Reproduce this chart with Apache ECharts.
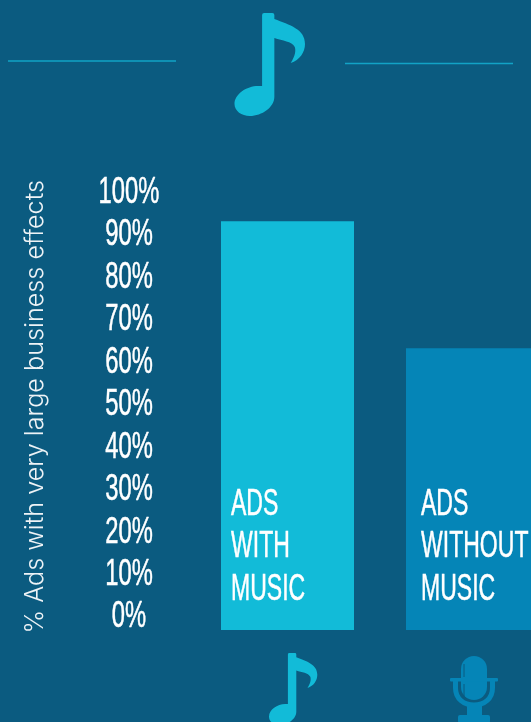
<!DOCTYPE html>
<html>
<head>
<meta charset="utf-8">
<style>html,body{margin:0;padding:0;background:#0B5B80;overflow:hidden}#chart{width:531px;height:722px}</style>
<script src="https://cdn.jsdelivr.net/npm/echarts@6/dist/echarts.min.js"></script>
</head>
<body>
<div id="chart"></div>
<script>
// Chart content
const categories = ['ADS\nWITH\nMUSIC', 'ADS\nWITHOUT\nMUSIC'];
const shareOfAds = [96.3, 66.4];
const tickValues = [0, 10, 20, 30, 40, 50, 60, 70, 80, 90, 100];
const axisTitle = '% Ads with very large business effects';

// Palette and type
const BG = '#0B5B80', TEAL = '#12BBD8', BLUE = '#0585B7', RULE = '#12A3C6';
const NARROW = '"Liberation Sans", sans-serif';
const TICK_SQUEEZE = 0.66, CAPTION_SQUEEZE = 0.64;
const CAPTION_INSET = [10, 15];

// Eighth note outline, reused at a smaller scale under the first bar
const NOTE = 'M258 15Q258 13 260 13L268 13Q270 13 270 15L270 19C285 25 300 29 300 44C300 52 295 60 286 63C291 55 291 50 290 47C287 41 278 41 270 38L270 97C270 107 258 116 246 116C238 116 231 111 231 104C231 94 243 86 254 86L258 86Z';

const chart = echarts.init(document.getElementById('chart'), null, {renderer: 'canvas'});

const barColor = (i) => (i === 0 ? TEAL : BLUE);

const pathEl = (d, x, y, width, height, style) => ({
  type: 'path',
  shape: {pathData: d, layout: 'cover', x, y, width, height},
  style
});

const condensedText = {
  fontFamily: NARROW, fontSize: 36, fill: '#fff', stroke: '#fff', lineWidth: 0.5
};

chart.setOption({
  backgroundColor: BG,
  animation: false,
  grid: {left: 195, width: 370, top: 205.5, height: 424.5, outerBoundsMode: 'none'},
  xAxis: {
    type: 'category',
    data: categories,
    axisLine: {show: false}, axisTick: {show: false}, axisLabel: {show: false}
  },
  yAxis: {
    type: 'value', min: 0, max: 100, interval: 10,
    name: axisTitle,
    nameLocation: 'middle',
    nameRotate: 90,
    nameGap: 147,
    nameTextStyle: {
      color: '#EEF3F6', fontFamily: 'Inter, sans-serif', fontWeight: 300, fontSize: 25.2,
      padding: [0, 0, 0, 22]
    },
    axisLine: {show: false}, axisTick: {show: false}, axisLabel: {show: false},
    splitLine: {show: false}
  },
  series: [
    {
      type: 'bar',
      barWidth: 133,
      data: shareOfAds.map((v, i) => ({value: v, itemStyle: {color: barColor(i)}}))
    },
    {
      // Percentage column, set in a squeezed face
      type: 'custom',
      data: tickValues.map((v) => [0, v]),
      encode: {x: 0, y: 1},
      silent: true,
      renderItem: (params, api) => ({
        type: 'text',
        x: 129,
        y: api.coord([0, api.value(1)])[1] - 12.5,
        scaleX: TICK_SQUEEZE,
        style: Object.assign({
          text: api.value(1) + '%',
          align: 'center', verticalAlign: 'middle'
        }, condensedText)
      })
    },
    {
      // Bar captions, stacked from the foot of each bar
      type: 'custom',
      data: categories.map((c, i) => [i, 0]),
      encode: {x: 0, y: 1},
      silent: true,
      z: 3,
      renderItem: (params, api) => {
        const i = api.value(0);
        const p = api.coord([i, 0]);
        return {
          type: 'text',
          x: p[0] - 66.5 + CAPTION_INSET[i],
          y: p[1] - 19,
          scaleX: CAPTION_SQUEEZE,
          style: Object.assign({
            text: categories[i],
            lineHeight: 42.5,
            align: 'left', verticalAlign: 'bottom'
          }, condensedText)
        };
      }
    },
    {
      // Header note and the two bar icons
      type: 'custom',
      data: [[0, 0]],
      encode: {x: 0, y: 1},
      silent: true,
      renderItem: () => ({
        type: 'group',
        children: [
          pathEl(NOTE, 234.5, 13, 70.5, 103, {fill: TEAL}),
          pathEl(NOTE, 269, 653, 48.3, 72.1, {fill: TEAL}),
          {type: 'rect', shape: {x: 461, y: 656, width: 26, height: 44, r: 13}, style: {fill: BLUE}},
          pathEl('M455.5 680L455.5 688C455.5 699 464 705 474 705C484 705 492.5 699 492.5 688L492.5 680', 455.5, 680, 37, 25, {fill: 'none', stroke: BLUE, lineWidth: 5}),
          {type: 'rect', shape: {x: 450, y: 678, width: 48, height: 3.5, r: 1}, style: {fill: BLUE}},
          {type: 'rect', shape: {x: 467, y: 706, width: 15, height: 11}, style: {fill: BLUE}},
          {type: 'rect', shape: {x: 458, y: 715, width: 32, height: 8, r: 2}, style: {fill: BLUE}}
        ]
      })
    }
  ],
  graphic: [
    {type: 'line', shape: {x1: 8, y1: 61, x2: 176, y2: 61}, style: {stroke: RULE, lineWidth: 1.5}},
    {type: 'line', shape: {x1: 345, y1: 63.5, x2: 513, y2: 63.5}, style: {stroke: RULE, lineWidth: 1.5}},
    {type: 'line', z: 10, shape: {x1: 464, y1: 664, x2: 464, y2: 677}, style: {stroke: BG, lineWidth: 1}},
    {type: 'line', z: 10, shape: {x1: 464, y1: 684, x2: 464, y2: 697}, style: {stroke: BG, lineWidth: 1}}
  ]
});
</script>
</body>
</html>
